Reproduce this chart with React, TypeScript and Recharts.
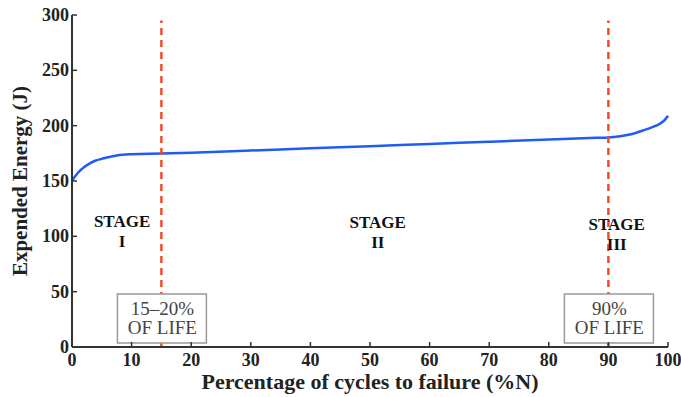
import { LineChart, Line, XAxis, YAxis, ReferenceLine, ReferenceDot } from 'recharts'

const cyclePct = [0, 0.5, 1, 2, 3, 4, 5, 6, 7, 8, 9, 10, 15, 20, 30, 40, 50, 60, 70, 80, 88, 90, 92, 94, 96, 98, 99, 99.5, 100]
const energy = [150, 154, 157.5, 162.5, 166, 168.5, 170, 171.5, 172.5, 173.5, 174, 174.2, 174.8, 175.5, 177.5, 179.5, 181.5, 183.5, 185.5, 187.5, 189, 189.3, 190.5, 192.5, 196, 200, 203, 205.5, 209]

const xTicks = [0, 10, 20, 30, 40, 50, 60, 70, 80, 90, 100]
const yTicks = [0, 50, 100, 150, 200, 250, 300]

const lifeMarks = [15, 90]
const lifeLabels = [['15–20%', 'OF LIFE'], ['90%', 'OF LIFE']]

const stageNumerals = ['I', 'II', 'III']
const stageCenters = [8.4, 51.3, 91.4]
const stageLevels = [108.5, 107.5, 106]

const SERIF = "'Liberation Serif', 'DejaVu Serif', serif"
const AXIS = '#333'

const chartData = cyclePct.map((x, i) => ({ x, e: energy[i] }))

function BottomTick({ x, y, payload }: any) {
  return (
    <g>
      <line x1={x} x2={x} y1={y} y2={y - 5} stroke={AXIS} strokeWidth={1.5} />
      <text x={x} y={y + 19} textAnchor="middle" fontFamily={SERIF} fontWeight="bold" fontSize={18} fill="#222">
        {payload.value}
      </text>
    </g>
  )
}

function LeftTick({ x, y, payload }: any) {
  return (
    <g>
      <line x1={x} x2={x + 5} y1={y} y2={y} stroke={AXIS} strokeWidth={1.5} />
      <text x={x - 3} y={y + 6} textAnchor="end" fontFamily={SERIF} fontWeight="bold" fontSize={18} fill="#222">
        {payload.value}
      </text>
    </g>
  )
}

const TopTick = ({ x, y }: any) => <line x1={x} x2={x} y1={y} y2={y + 5} stroke="#555" strokeWidth={1.2} />
const RightTick = ({ x, y }: any) => <line x1={x} x2={x - 5} y1={y} y2={y} stroke="#555" strokeWidth={1.2} />

function YTitle({ viewBox }: any) {
  const cy = viewBox.y + viewBox.height / 2
  return (
    <text x={27} y={cy} transform={`rotate(-90 27 ${cy})`} textAnchor="middle" fontFamily={SERIF} fontWeight="bold" fontSize={21} fill="#222">
      Expended Energy (J)
    </text>
  )
}

function XTitle({ viewBox }: any) {
  const cx = viewBox.x + viewBox.width / 2
  return (
    <text x={cx} y={389} textAnchor="middle" fontFamily={SERIF} fontWeight="bold" fontSize={22} fill="#222">
      Percentage of cycles to failure (%N)
    </text>
  )
}

function LifeBox({ cx, cy, lines }: any) {
  return (
    <g>
      <rect x={cx - 44} y={cy - 53} width={89} height={49} fill="#fff" stroke="#999" strokeWidth={1.5} />
      <text textAnchor="middle" fontFamily={SERIF} fontSize={19} fill="#444">
        <tspan x={cx + 1} y={cy - 32}>{lines[0]}</tspan>
        <tspan x={cx + 1} y={cy - 13}>{lines[1]}</tspan>
      </text>
    </g>
  )
}

function StageLabel({ cx, cy, numeral }: any) {
  return (
    <g fontFamily={SERIF} fontWeight="bold" fontSize={17} fill="#111" textAnchor="middle">
      <text x={cx} y={cy}>STAGE</text>
      <text x={cx} y={cy + 20}>{numeral}</text>
    </g>
  )
}

export default function App() {
  return (
    <div style={{ width: 681, height: 397, background: '#fff' }}>
      <style>{'body{margin:0}'}</style>
      <LineChart width={681} height={397} data={chartData} margin={{ top: 15, right: 13, left: 0, bottom: 0 }}>
        <XAxis
          dataKey="x"
          type="number"
          domain={[0, 100]}
          ticks={xTicks}
          height={50}
          tickSize={0}
          tickMargin={0}
          tickLine={false}
          tick={<BottomTick />}
          axisLine={{ stroke: AXIS, strokeWidth: 2 }}
          label={<XTitle />}
        />
        <XAxis
          xAxisId="top"
          orientation="top"
          type="number"
          domain={[0, 100]}
          ticks={xTicks}
          height={0}
          tickSize={0}
          tickMargin={0}
          tickLine={false}
          tick={<TopTick />}
          axisLine={{ stroke: '#555', strokeWidth: 1.5 }}
        />
        <YAxis
          type="number"
          domain={[0, 300]}
          ticks={yTicks}
          width={72}
          tickSize={0}
          tickMargin={0}
          tickLine={false}
          tick={<LeftTick />}
          axisLine={{ stroke: AXIS, strokeWidth: 2 }}
          label={<YTitle />}
        />
        <YAxis
          yAxisId="right"
          orientation="right"
          type="number"
          domain={[0, 300]}
          ticks={yTicks}
          width={0}
          tickSize={0}
          tickMargin={0}
          tickLine={false}
          tick={<RightTick />}
          axisLine={{ stroke: '#555', strokeWidth: 1.5 }}
        />
        <Line
          type="monotone"
          dataKey="e"
          stroke="#1f5cf5"
          strokeWidth={2.5}
          dot={false}
          isAnimationActive={false}
        />
        {lifeMarks.map((m) => (
          <ReferenceLine
            key={`line-${m}`}
            segment={[{ x: m, y: 0 }, { x: m, y: 295 }]}
            stroke="#e8502a"
            strokeWidth={2.5}
            strokeDasharray="7 5"
          />
        ))}
        {lifeMarks.map((m, i) => (
          <ReferenceDot
            key={`box-${m}`}
            x={m}
            y={0}
            r={0}
            ifOverflow="visible"
            shape={(p: any) => <LifeBox cx={p.cx} cy={p.cy} lines={lifeLabels[i]} />}
          />
        ))}
        {stageNumerals.map((n, i) => (
          <ReferenceDot
            key={`stage-${n}`}
            x={stageCenters[i]}
            y={stageLevels[i]}
            r={0}
            ifOverflow="visible"
            shape={(p: any) => <StageLabel cx={p.cx} cy={p.cy} numeral={n} />}
          />
        ))}
      </LineChart>
    </div>
  )
}
